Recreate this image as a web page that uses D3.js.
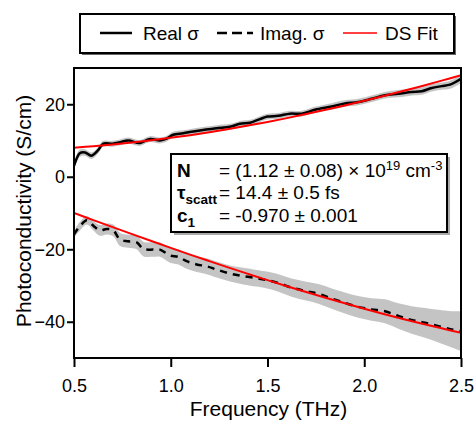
<!DOCTYPE html>
<meta charset="utf-8">
<script src="https://d3js.org/d3.v7.min.js"></script>
<title>Photoconductivity</title>
<style>
  body { margin: 0; background: white; }
  svg { font-family: "Liberation Sans", Arial, sans-serif; }
  .tick line { stroke: black; stroke-width: 2; }
  .tick text { font-size: 18px; fill: black; }
</style>
<body>
<div id="chart"></div>
<script>
// measured data (real part)
var realFreq = [0.50,0.505,0.53,0.557,0.59,0.626,0.65,0.70,0.738,0.78,0.824,0.84,0.893,0.944,0.979,1.013,1.065,1.117,1.168,1.237,1.306,1.358,1.41,1.461,1.50,1.556,1.616,1.677,1.745,1.832,1.90,1.969,2.038,2.107,2.176,2.245,2.297,2.349,2.40,2.443,2.50];
var realSigma = [3.0,3.8,6.5,6.7,5.8,7.4,9.1,9.1,9.5,10.0,9.4,9.3,10.4,10.0,10.5,11.6,12.0,12.5,12.9,13.4,13.8,14.6,14.9,15.9,16.6,16.8,17.4,17.4,18.5,19.4,20.2,20.6,21.5,22.5,22.9,23.4,23.6,24.5,25.0,25.4,27.0];
var realErr = [1.0,1.0,1.0,0.9,0.9,0.9,0.8,0.8,0.8,0.8,0.8,0.8,0.8,0.8,0.8,0.8,0.8,0.8,0.8,0.8,0.8,0.8,0.8,0.8,0.8,0.8,0.8,0.8,0.8,0.9,0.9,0.9,0.9,0.9,1.0,1.0,1.0,1.0,1.0,1.1,1.2];

// measured data (imaginary part)
var imagFreq = [0.50,0.505,0.53,0.566,0.60,0.634,0.669,0.703,0.738,0.78,0.824,0.858,0.91,0.944,0.996,1.039,1.082,1.134,1.186,1.237,1.306,1.375,1.444,1.487,1.556,1.625,1.694,1.763,1.832,1.90,1.969,2.038,2.107,2.176,2.245,2.314,2.383,2.452,2.50];
var imagSigma = [-16.0,-15.5,-13.7,-12.0,-13.5,-14.8,-14.4,-14.8,-17.3,-17.8,-18.1,-19.9,-20.1,-20.1,-21.7,-22.1,-23.3,-24.2,-24.7,-25.6,-26.7,-27.4,-28.0,-28.4,-29.3,-30.6,-31.5,-32.3,-33.6,-34.8,-35.9,-36.6,-37.1,-38.4,-39.5,-40.3,-41.2,-42.1,-42.6];
var imagErr = [1.0,1.0,1.2,1.2,1.3,1.5,1.5,1.6,1.8,1.8,1.9,2.0,2.0,2.0,2.0,2.1,2.1,2.1,2.2,2.2,2.2,2.3,2.3,2.3,2.4,2.5,2.6,2.7,2.8,2.9,3.0,3.1,3.3,3.5,3.8,4.1,4.5,5.0,5.5];

// Drude-Smith fit
var fitFreq = [0.5,0.6,0.7,0.8,0.9,1.0,1.1,1.2,1.3,1.4,1.5,1.6,1.7,1.8,1.9,2.0,2.1,2.2,2.3,2.4,2.5];
var fitReal = [8.02,8.42,8.89,9.44,10.05,10.73,11.48,12.30,13.17,14.11,15.11,16.17,17.29,18.46,19.68,20.96,22.28,23.64,25.05,26.51,28.00];
var fitImag = [-9.99,-11.96,-13.91,-15.84,-17.74,-19.62,-21.47,-23.28,-25.07,-26.81,-28.52,-30.19,-31.81,-33.39,-34.92,-36.40,-37.84,-39.22,-40.54,-41.82,-43.03];

var xTicks = [0.5,1.0,1.5,2.0,2.5];
var yTicks = [-40,-20,0,20];

var width = 476, height = 424;
var plot = {left: 74, right: 461, top: 68, bottom: 358};

var svg = d3.select("#chart").append("svg")
    .attr("width", width)
    .attr("height", height);

var x = d3.scaleLinear().domain([0.5, 2.5]).range([plot.left, plot.right]);
var y = d3.scaleLinear().domain([-50, 30]).range([plot.bottom, plot.top]);

svg.append("clipPath").attr("id", "clip")
  .append("rect")
    .attr("x", plot.left).attr("y", plot.top)
    .attr("width", plot.right - plot.left).attr("height", plot.bottom - plot.top);

var g = svg.append("g").attr("clip-path", "url(#clip)");

function rows(fs, vs, es) {
  return fs.map(function(f, i) { return {f: f, v: vs[i], e: es ? es[i] : 0}; });
}
var realRows = rows(realFreq, realSigma, realErr);
var imagRows = rows(imagFreq, imagSigma, imagErr);
var fitRealRows = rows(fitFreq, fitReal);
var fitImagRows = rows(fitFreq, fitImag);

var band = d3.area()
    .x(function(d) { return x(d.f); })
    .y0(function(d) { return y(d.v - d.e); })
    .y1(function(d) { return y(d.v + d.e); })
    .curve(d3.curveCatmullRom);

var line = d3.line()
    .x(function(d) { return x(d.f); })
    .y(function(d) { return y(d.v); })
    .curve(d3.curveCatmullRom);

g.append("path").datum(realRows).attr("d", band).attr("fill", "#c4c4c4");
g.append("path").datum(imagRows).attr("d", band).attr("fill", "#c4c4c4");

g.append("path").datum(realRows).attr("d", line)
  .attr("fill", "none").attr("stroke", "black").attr("stroke-width", 2.5);
g.append("path").datum(imagRows).attr("d", line)
  .attr("fill", "none").attr("stroke", "black").attr("stroke-width", 2.5)
  .attr("stroke-dasharray", "7,6");

g.append("path").datum(fitRealRows).attr("d", line)
  .attr("fill", "none").attr("stroke", "#ff0000").attr("stroke-width", 2);
g.append("path").datum(fitImagRows).attr("d", line)
  .attr("fill", "none").attr("stroke", "#ff0000").attr("stroke-width", 2);

// axes
var xAxis = svg.append("g")
    .attr("transform", "translate(0," + plot.bottom + ")")
    .call(d3.axisBottom(x).tickValues(xTicks).tickFormat(d3.format(".1f"))
      .tickSizeInner(9).tickSizeOuter(0).tickPadding(12));
xAxis.select(".domain").remove();

var yAxis = svg.append("g")
    .attr("transform", "translate(" + plot.left + ",0)")
    .call(d3.axisLeft(y).tickValues(yTicks).tickFormat(d3.format("d"))
      .tickSizeInner(7).tickSizeOuter(0).tickPadding(2));
yAxis.select(".domain").remove();

svg.append("rect")
    .attr("x", plot.left).attr("y", plot.top)
    .attr("width", plot.right - plot.left).attr("height", plot.bottom - plot.top)
    .attr("fill", "none").attr("stroke", "black").attr("stroke-width", 2);

svg.append("text")
    .attr("x", (plot.left + plot.right) / 2 + 1)
    .attr("y", 416)
    .attr("text-anchor", "middle")
    .style("font-size", "21px")
    .text("Frequency (THz)");

svg.append("text")
    .attr("transform", "rotate(-90)")
    .attr("x", -(plot.top + plot.bottom) / 2 + 2)
    .attr("y", 31)
    .attr("text-anchor", "middle")
    .style("font-size", "21px")
    .text("Photoconductivity (S/cm)");

// legend
var leg = svg.append("g");
leg.append("rect").attr("x", 82).attr("y", 16).attr("width", 374).attr("height", 39)
  .attr("fill", "#666");
leg.append("rect").attr("x", 80).attr("y", 14).attr("width", 374).attr("height", 39)
  .attr("fill", "white").attr("stroke", "black").attr("stroke-width", 2);

leg.append("line").attr("x1", 100).attr("x2", 132).attr("y1", 33).attr("y2", 33)
  .attr("stroke", "black").attr("stroke-width", 2.5);
leg.append("text").attr("x", 143).attr("y", 40).style("font-size", "19px").text("Real σ");
leg.append("line").attr("x1", 217).attr("x2", 253).attr("y1", 33).attr("y2", 33)
  .attr("stroke", "black").attr("stroke-width", 2.5).attr("stroke-dasharray", "10,5");
leg.append("text").attr("x", 260).attr("y", 40).style("font-size", "19px").text("Imag. σ");
leg.append("line").attr("x1", 343).attr("x2", 377).attr("y1", 33).attr("y2", 33)
  .attr("stroke", "#ff0000").attr("stroke-width", 1.5);
leg.append("text").attr("x", 385).attr("y", 40).style("font-size", "19px").text("DS Fit");

// fit parameter box
var box = svg.append("g");
box.append("rect").attr("x", 174).attr("y", 157).attr("width", 276).attr("height", 78)
  .attr("fill", "#aaa");
box.append("rect").attr("x", 171).attr("y", 154).attr("width", 276).attr("height", 78)
  .attr("fill", "white").attr("stroke", "black").attr("stroke-width", 2);

var fs = "19px";
var t1 = box.append("text").attr("y", 176.5).style("font-size", fs);
t1.append("tspan").attr("x", 177).style("font-weight", "bold").text("N");
t1.append("tspan").attr("x", 219).text("= (1.12 ± 0.08) × 10");
t1.append("tspan").attr("dy", -7).style("font-size", "13px").text("19");
t1.append("tspan").attr("dy", 7).text(" cm");
t1.append("tspan").attr("dy", -7).style("font-size", "13px").text("-3");

var t2 = box.append("text").attr("y", 199).style("font-size", fs);
t2.append("tspan").attr("x", 177).style("font-weight", "bold").text("τ");
t2.append("tspan").attr("dy", 5).style("font-weight", "bold").style("font-size", "13.5px").text("scatt");
t2.append("tspan").attr("x", 219).attr("dy", -5).text("= 14.4 ± 0.5 fs");

var t3 = box.append("text").attr("y", 222).style("font-size", fs);
t3.append("tspan").attr("x", 177).style("font-weight", "bold").text("c");
t3.append("tspan").attr("dy", 5).style("font-weight", "bold").style("font-size", "13.5px").text("1");
t3.append("tspan").attr("x", 219).attr("dy", -5).text("= -0.970 ± 0.001");
</script>
</body>
